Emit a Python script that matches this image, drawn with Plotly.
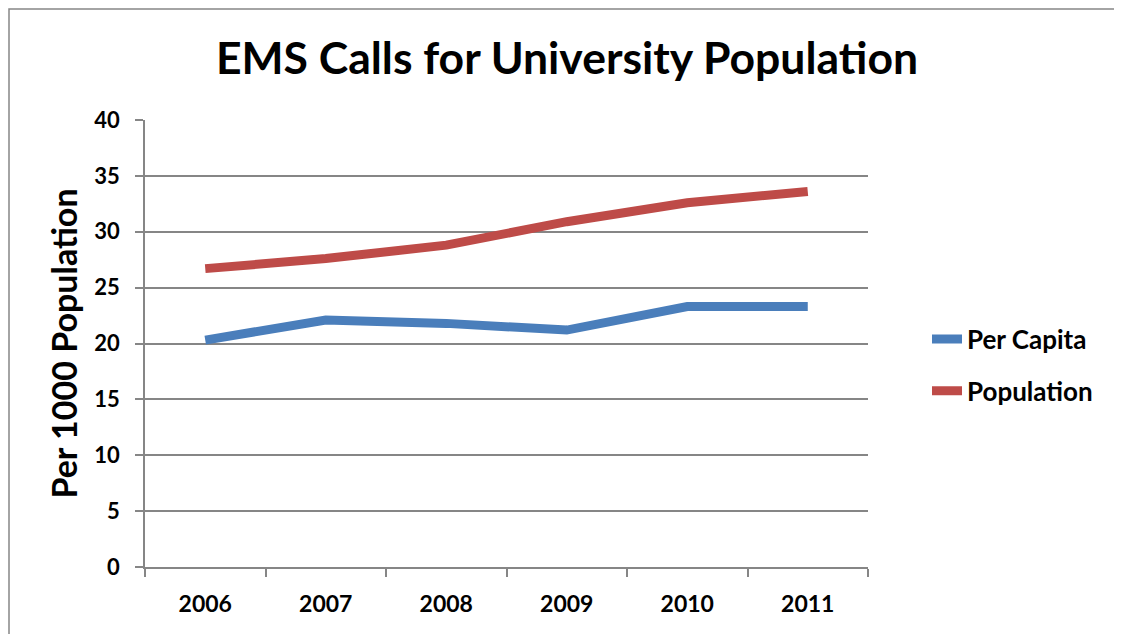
import plotly.graph_objects as go

years = ["2006", "2007", "2008", "2009", "2010", "2011"]
per_capita = [20.3, 22.1, 21.8, 21.2, 23.3, 23.3]
population = [26.7, 27.6, 28.8, 30.9, 32.6, 33.6]
y_ticks = [0, 5, 10, 15, 20, 25, 30, 35, 40]

FONT = "Lato"
GRID = "#868686"

# plot area in figure pixels (page is offset by 8px body margin)
L, T, W, H = 137, 112, 723, 447
FW, FH = 1122, 634

def px(x):
    return (x - L) / W

def py(y):
    return (T + H - y) / H

fig = go.Figure()
fig.add_trace(go.Scatter(x=years, y=per_capita, name="Per Capita", mode="lines",
                         line=dict(color="#4A7EBB", width=9), legendgroup="a"))
fig.add_trace(go.Scatter(x=years, y=population, name="Population", mode="lines",
                         line=dict(color="#BE4B48", width=9), legendgroup="b"))

fig.update_layout(
    width=FW, height=FH,
    margin=dict(l=L, r=FW - L - W, t=T, b=FH - T - H, autoexpand=False),
    paper_bgcolor="white", plot_bgcolor="white",
    font=dict(family=FONT, color="black", weight="bold"),
    title=dict(text="EMS Calls for University Population", xref="container", x=559 / FW,
               xanchor="center", yref="container", y=1 - 50 / FH, yanchor="middle",
               font=dict(size=44.5, family=FONT, color="black", weight="bold")),
    legend=dict(x=px(919), xanchor="left", y=py(357), yanchor="middle",
                font=dict(size=26, family=FONT, color="black", weight="bold"),
                traceorder="grouped", tracegroupgap=15, bgcolor="rgba(0,0,0,0)"),
    xaxis=dict(type="category", range=[-0.5, 5.5], showgrid=False, showline=True,
               linecolor=GRID, linewidth=1.5, automargin=False,
               ticks="outside", tickson="boundaries", ticklen=8, tickcolor=GRID, tickwidth=1.5,
               tickfont=dict(size=23, family=FONT, color="black", weight="bold"),
               ticklabelstandoff=16),
    yaxis=dict(range=[0, 40], tickvals=y_ticks, showgrid=True, gridcolor=GRID, gridwidth=1.5,
               showline=True, linecolor=GRID, linewidth=1.5, zeroline=False, automargin=False,
               ticks="outside", ticklen=8, tickcolor=GRID, tickwidth=1.5,
               tickfont=dict(size=22, family=FONT, color="black", weight="bold"),
               ticklabelstandoff=11,
               title=dict(text="Per 1000 Population",
                          font=dict(size=34, family=FONT, color="black", weight="bold"),
                          standoff=6)),
)

fig.add_shape(type="rect", xref="paper", yref="paper",
              x0=px(1), x1=px(1109), y0=py(700), y1=py(1),
              line=dict(color="#868686", width=1.5), fillcolor="rgba(0,0,0,0)", layer="below")

fig.write_html("out.html")
